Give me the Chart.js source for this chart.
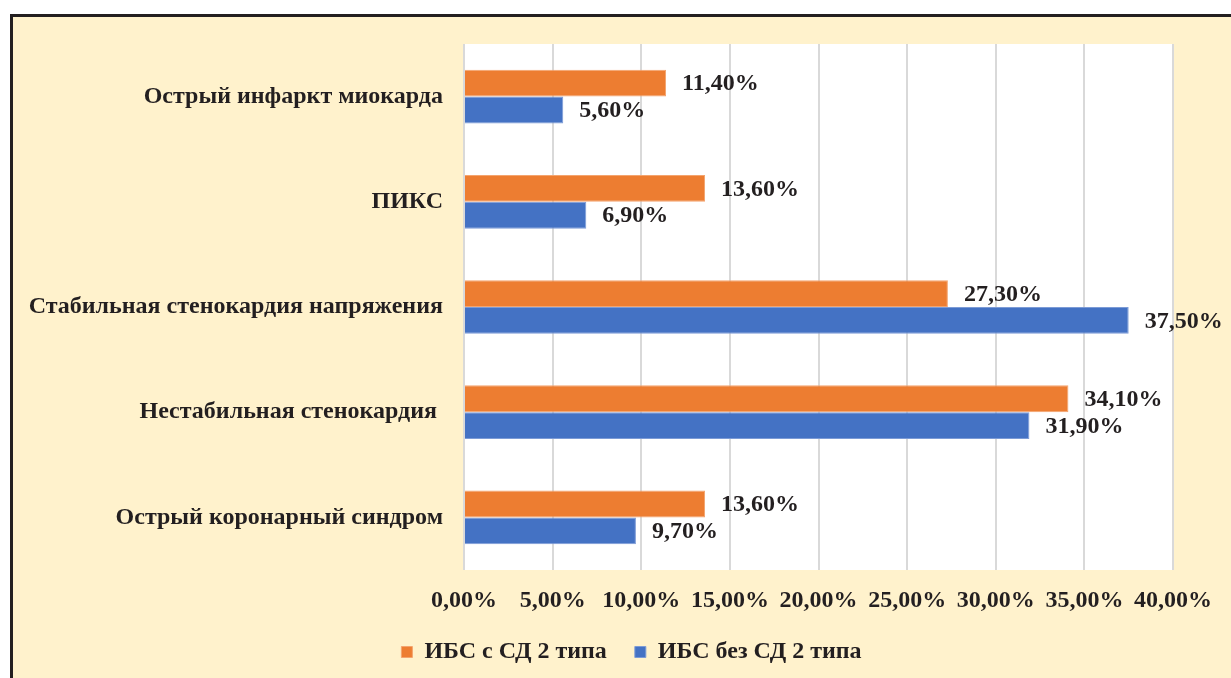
<!DOCTYPE html>
<html>
<head>
<meta charset="utf-8">
<script src="https://cdn.jsdelivr.net/npm/chart.js@4/dist/chart.umd.min.js"></script>
<style>
	html,body{margin:0;padding:0;background:#fff;}
	#panel{position:absolute;left:10px;top:14px;width:1221px;height:664px;background:#FFF2CC;border-top:3px solid #231f20;border-left:3px solid #231f20;box-sizing:border-box;}
	#wrap{position:absolute;left:0;top:0;width:1231px;height:678px;}
</style>
</head>
<body>
<div id="panel"></div>
<div id="wrap"><canvas id="c" width="1231" height="678"></canvas></div>
<script>
	const categories = ['Острый инфаркт миокарда', 'ПИКС', 'Стабильная стенокардия напряжения', 'Нестабильная стенокардия ', 'Острый коронарный синдром'];
	const withDiabetes = [11.4, 13.6, 27.3, 34.1, 13.6];
	const withoutDiabetes = [5.6, 6.9, 37.5, 31.9, 9.7];
	const seriesNames = ['ИБС с СД 2 типа', 'ИБС без СД 2 типа'];
	const xTicks = [0, 5, 10, 15, 20, 25, 30, 35, 40];

	const FONT = "'Liberation Serif', 'Times New Roman', serif";
	const fmt = v => v.toFixed(2).replace('.', ',') + '%';

	// white plot area
	const plotBg = {
		id: 'plotBg',
		beforeDraw(chart){
			const a = chart.chartArea, ctx = chart.ctx;
			ctx.save(); ctx.fillStyle = '#ffffff';
			ctx.fillRect(a.left, a.top, a.right - a.left, a.bottom - a.top);
			ctx.restore();
		}
	};
	// value labels right of bars
	const barLabels = {
		id: 'barLabels',
		afterDatasetsDraw(chart){
			const ctx = chart.ctx;
			ctx.save();
			ctx.font = 'bold 24px ' + FONT;
			ctx.fillStyle = '#231f20';
			ctx.textBaseline = 'middle';
			ctx.textAlign = 'left';
			chart.data.datasets.forEach((ds, i) => {
				chart.getDatasetMeta(i).data.forEach((bar, j) => {
					ctx.fillText(fmt(ds.data[j]), bar.x + 16, bar.y + 1);
				});
			});
			ctx.restore();
		}
	};
	// legend sits a bit right of the canvas centre in the original
	const legendShift = {
		id: 'legendShift',
		afterLayout(chart){ chart.legend.left += 70; }
	};

	new Chart(document.getElementById('c'), {
		type: 'bar',
		data: {
			labels: categories,
			datasets: [
				{ label: seriesNames[0], data: withDiabetes, backgroundColor: '#ED7D31', borderColor: '#F4A46E', borderWidth: 1, categoryPercentage: 0.51, barPercentage: 1 },
				{ label: seriesNames[1], data: withoutDiabetes, backgroundColor: '#4472C4', borderColor: '#7C9BD6', borderWidth: 1, categoryPercentage: 0.51, barPercentage: 1 }
			]
		},
		options: {
			indexAxis: 'y',
			responsive: false,
			animation: false,
			layout: { padding: { left: 20, right: 58, top: 44, bottom: 4 } },
			scales: {
				x: {
					min: 0, max: 40,
					afterBuildTicks: s => { s.ticks = xTicks.map(v => ({ value: v })); },
					afterFit: s => { s.height = 42; },
					border: { display: false },
					grid: { color: '#d9d9d9', lineWidth: 2, drawTicks: false },
					ticks: { padding: 16, color: '#231f20', font: { family: FONT, size: 24, weight: 'bold' }, callback: v => fmt(v) }
				},
				y: {
					afterFit: s => { s.width = 444; },
					border: { display: false },
					grid: { display: false, drawTicks: false },
					ticks: { padding: 21, color: '#231f20', font: { family: FONT, size: 24, weight: 'bold' } }
				}
			},
			plugins: {
				legend: {
					position: 'bottom',
					labels: { boxWidth: 11, boxHeight: 11, padding: 28, color: '#231f20', font: { family: FONT, size: 24, weight: 'bold' } }
				},
				tooltip: { enabled: false }
			}
		},
		plugins: [plotBg, barLabels, legendShift]
	});
</script>
</body>
</html>
